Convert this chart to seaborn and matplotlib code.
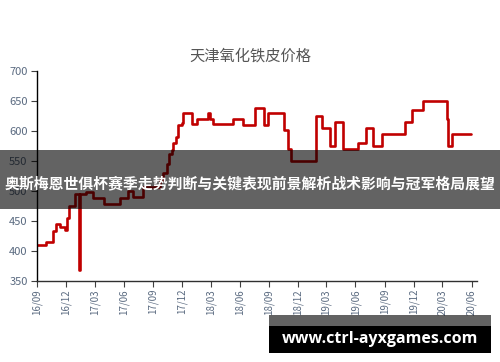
import matplotlib
matplotlib.use("Agg")
import matplotlib.pyplot as plt
import matplotlib.dates as mdates
from matplotlib.patches import Rectangle
import seaborn as sns
import pandas as pd

title = "天津氧化铁皮价格"
banner = "奥斯梅恩世俱杯赛季走势判断与关键表现前景解析战术影响与冠军格局展望"
watermark = "www.ctrl-ayxgames.com"

dates = [
    "2016-09-01", "2016-09-28", "2016-10-19", "2016-10-30", "2016-11-11",
    "2016-11-26", "2016-12-04", "2016-12-10", "2016-12-29", "2017-01-11",
    "2017-01-15", "2017-02-01", "2017-02-24", "2017-03-30", "2017-05-19",
    "2017-06-14", "2017-06-29", "2017-07-31", "2017-09-23", "2017-10-02",
    "2017-10-14", "2017-10-21", "2017-10-30", "2017-11-03", "2017-11-12",
    "2017-11-19", "2017-11-30", "2017-12-05", "2018-01-03", "2018-01-16",
    "2018-02-22", "2018-02-28", "2018-03-09", "2018-05-11", "2018-06-10",
    "2018-07-19", "2018-08-16", "2018-08-28", "2018-10-18", "2018-11-01",
    "2018-11-11", "2019-01-29", "2019-02-14", "2019-03-12", "2019-03-28",
    "2019-04-23", "2019-06-09", "2019-07-04", "2019-07-27", "2019-08-25",
    "2019-11-03", "2019-11-26", "2019-12-30", "2020-03-14", "2020-03-20",
    "2020-04-01", "2020-05-29",
]
prices = [
    410, 415, 433, 445, 440,
    434, 454, 475, 495, 367,
    495, 497, 487, 477, 487,
    499, 490, 506, 517, 529,
    545, 561, 567, 579, 590,
    609, 612, 630, 611, 620,
    629, 620, 611, 619, 610,
    638, 610, 630, 601, 570,
    549, 625, 605, 574, 615,
    569, 580, 605, 574, 594,
    615, 634, 650, 620, 574,
    594, 594,
]
y_ticks = [350, 400, 450, 500, 550, 600, 650, 700]

df = pd.DataFrame({"date": pd.to_datetime(dates), "price": prices})

sns.set_style("ticks")
plt.rcParams["font.family"] = ["Noto Sans CJK SC", "DejaVu Sans"]

fig = plt.figure(figsize=(5.0, 3.62), dpi=100)
ax = fig.add_axes([0.0746, 0.225, 0.880, 0.580])

sns.lineplot(data=df, x="date", y="price", ax=ax, color="#C00000",
             linewidth=1.9, drawstyle="steps-post")

ax.set_ylim(350, 700)
ax.set_xlim(pd.Timestamp("2016-09-01"), pd.Timestamp("2020-06-19"))
ax.set_yticks(y_ticks)
ax.xaxis.set_major_locator(mdates.MonthLocator(bymonth=[3, 6, 9, 12]))
ax.xaxis.set_major_formatter(mdates.DateFormatter("%y/%m"))
ax.tick_params(axis="x", labelrotation=90, labelsize=7, colors="#404040",
               length=4, width=0.8, pad=2)
ax.tick_params(axis="y", labelsize=8, colors="#404040", length=4, width=0.8, pad=3)
for lbl in ax.get_xticklabels() + ax.get_yticklabels():
    lbl.set_color("#5a6a80")
ax.set_xlabel("")
ax.set_ylabel("")
sns.despine(ax=ax)
ax.spines["left"].set_color("#000000")
ax.spines["bottom"].set_color("#303030")
ax.spines["left"].set_linewidth(1.0)
ax.spines["bottom"].set_linewidth(1.0)

fig.text(0.501, 1 - 56 / 362, title, ha="center", va="center",
         fontsize=11, color="#555555")

# overlay banner
fig.patches.append(Rectangle((0, 1 - 209 / 362), 1, 59 / 362, transform=fig.transFigure,
                             facecolor="black", alpha=0.61, edgecolor="none", zorder=10))
fig.text(0.5, 1 - 183.5 / 362, banner, ha="center", va="center", fontsize=10.7,
         fontweight="bold", color="white", zorder=11)

# watermark
fig.patches.append(Rectangle((269 / 500, 1 - 326 / 362), 222 / 500, 11 / 362,
                             transform=fig.transFigure, facecolor="black", alpha=0.61,
                             edgecolor="none", zorder=10))
fig.patches.append(Rectangle((269 / 500, 1 - 353 / 362), 222 / 500, 27 / 362,
                             transform=fig.transFigure, facecolor="black",
                             edgecolor="none", zorder=10))
fig.text(380 / 500, 1 - 339 / 362, watermark, ha="center", va="center", fontsize=11.5,
         fontweight="bold", color="white", family=["Open Sans", "DejaVu Sans"], zorder=11)

fig.savefig("out.png", dpi=100)
